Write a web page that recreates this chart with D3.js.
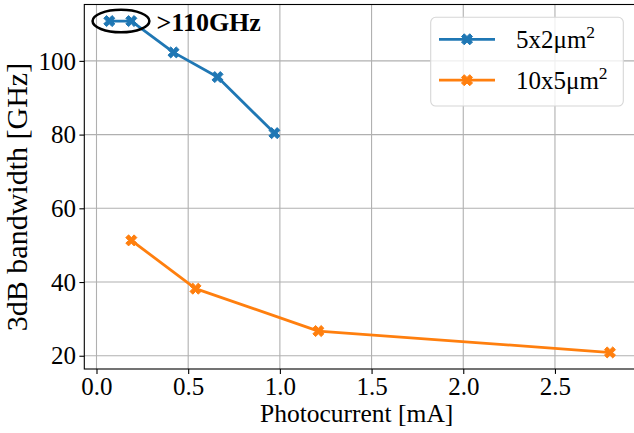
<!DOCTYPE html>
<html>
<head>
<meta charset="utf-8">
<script src="https://cdn.jsdelivr.net/npm/d3@7"></script>
<style>
  html, body { margin: 0; padding: 0; background: #fff; }
  svg { display: block; }
  text { font-family: "Liberation Serif", "Times New Roman", serif; fill: #000; }
</style>
</head>
<body>
<div id="chart"></div>
<script>
// Bandwidth vs photocurrent for two photodiode sizes
const smallCurrent = [0.07, 0.19, 0.42, 0.66, 0.97];
const smallBandwidth = [110.8, 110.8, 102.3, 95.6, 80.4];
const largeCurrent = [0.19, 0.54, 1.21, 2.8];
const largeBandwidth = [51.3, 38.2, 26.7, 20.9];

const seriesNames = ["5x2\u03bcm", "10x5\u03bcm"];
const seriesColors = ["#1f77b4", "#ff7f0e"];

const xTicks = [0.0, 0.5, 1.0, 1.5, 2.0, 2.5];
const yTicks = [20, 40, 60, 80, 100];

// note ellipse around the two highest-bandwidth points: [cx, cy, width, height] in data units
const noteEllipse = [0.1335, 110.8, 0.31, 6.08];
const noteText = ">110GHz";

const W = 634, H = 433;
const plot = { left: 84.3, right: 635, top: 4.5, bottom: 369 };

// matplotlib-like 5% data margins
function padded(vals) {
  const lo = d3.min(vals), hi = d3.max(vals), m = (hi - lo) * 0.05;
  return [lo - m, hi + m];
}
const x = d3.scaleLinear().domain(padded(smallCurrent.concat(largeCurrent))).range([plot.left, plot.right]);
const y = d3.scaleLinear().domain(padded(smallBandwidth.concat(largeBandwidth))).range([plot.bottom, plot.top]);

const svg = d3.select("#chart").append("svg").attr("width", W).attr("height", H);

// grid
const grid = svg.append("g").attr("stroke", "#b0b0b0").attr("stroke-width", 1.1);
xTicks.forEach(t => grid.append("line").attr("x1", x(t)).attr("x2", x(t)).attr("y1", plot.top).attr("y2", plot.bottom));
yTicks.forEach(t => grid.append("line").attr("x1", plot.left).attr("x2", plot.right).attr("y1", y(t)).attr("y2", y(t)));

// axes
const xAxis = d3.axisBottom(x).tickValues(xTicks).tickFormat(d3.format(".1f")).tickSizeInner(4.9).tickSizeOuter(0).tickPadding(4);
const yAxis = d3.axisLeft(y).tickValues(yTicks).tickFormat(d3.format("d")).tickSizeInner(4.9).tickSizeOuter(0).tickPadding(4);

const gx = svg.append("g").attr("transform", `translate(0,${plot.bottom})`).call(xAxis);
gx.select(".domain").remove();
gx.attr("font-family", null);
gx.selectAll("line").attr("stroke", "#000").attr("stroke-width", 1.1);
gx.selectAll("text").attr("font-size", 25).attr("dy", null).attr("y", 25.5);

const gy = svg.append("g").attr("transform", `translate(${plot.left},0)`).call(yAxis);
gy.select(".domain").remove();
gy.attr("font-family", null);
gy.selectAll("line").attr("stroke", "#000").attr("stroke-width", 1.1);
gy.selectAll("text").attr("font-size", 25).attr("dy", "0.33em").attr("x", -8.3);

// spines
svg.append("rect")
  .attr("x", plot.left).attr("y", plot.top)
  .attr("width", plot.right - plot.left).attr("height", plot.bottom - plot.top)
  .attr("fill", "none").attr("stroke", "#000").attr("stroke-width", 1.1);

// filled X marker (plus rotated by 45 degrees)
function xMarker(u) {
  const pts = [[-1,-3],[-1,-1],[-3,-1],[-3,1],[-1,1],[-1,3],[1,3],[1,1],[3,1],[3,-1],[1,-1],[1,-3]];
  const c = Math.SQRT1_2;
  return "M" + pts.map(([a, b]) => [(a - b) * c * u, (a + b) * c * u].map(v => v.toFixed(2)).join(",")).join("L") + "Z";
}
const markerPath = xMarker(1.95);

const line = d3.line().x(d => x(d[0])).y(d => y(d[1]));
const series = [
  { pts: d3.zip(smallCurrent, smallBandwidth), color: seriesColors[0] },
  { pts: d3.zip(largeCurrent, largeBandwidth), color: seriesColors[1] }
];
series.forEach(s => {
  svg.append("path").datum(s.pts).attr("d", line)
    .attr("fill", "none").attr("stroke", s.color).attr("stroke-width", 2.8)
    .attr("stroke-linejoin", "round").attr("stroke-linecap", "square");
  svg.append("g").selectAll("path").data(s.pts).join("path")
    .attr("d", markerPath)
    .attr("transform", d => `translate(${x(d[0])},${y(d[1])})`)
    .attr("fill", s.color).attr("stroke", s.color).attr("stroke-width", 1);
});

// note: ellipse and label
svg.append("ellipse")
  .attr("cx", x(noteEllipse[0])).attr("cy", y(noteEllipse[1]))
  .attr("rx", Math.abs(x(noteEllipse[2]) - x(0)) / 2)
  .attr("ry", Math.abs(y(0) - y(noteEllipse[3])) / 2)
  .attr("fill", "none").attr("stroke", "#000").attr("stroke-width", 2.5);
svg.append("text").attr("x", 156.5).attr("y", 30.5).attr("font-size", 26).attr("font-weight", "bold").text(noteText);

// axis labels
svg.append("text").attr("x", (plot.left + plot.right) / 2 - 3).attr("y", 421.5)
  .attr("text-anchor", "middle").attr("font-size", 25.5).text("Photocurrent [mA]");
svg.append("text")
  .attr("transform", `translate(27,197) rotate(-90)`)
  .attr("text-anchor", "middle").attr("font-size", 30).text("3dB bandwidth [GHz]");

// legend
const lg = svg.append("g");
lg.append("rect").attr("x", 430.7).attr("y", 17.3).attr("width", 192.6).attr("height", 88.7)
  .attr("rx", 5).attr("fill", "#fff").attr("fill-opacity", 0.8)
  .attr("stroke", "#d6d6d6").attr("stroke-width", 1.1);
seriesNames.forEach((name, i) => {
  const ly = 39.3 + i * 40.9;
  lg.append("line").attr("x1", 439).attr("x2", 495).attr("y1", ly).attr("y2", ly)
    .attr("stroke", seriesColors[i]).attr("stroke-width", 2.8);
  lg.append("path").attr("d", markerPath).attr("transform", `translate(467,${ly})`)
    .attr("fill", seriesColors[i]).attr("stroke", seriesColors[i]).attr("stroke-width", 1);
  const t = lg.append("text").attr("x", 516).attr("y", ly + 8.3).attr("font-size", 25);
  t.append("tspan").text(name);
  t.append("tspan").attr("font-size", 17.5).attr("dy", -10).text("2");
});
</script>
</body>
</html>
